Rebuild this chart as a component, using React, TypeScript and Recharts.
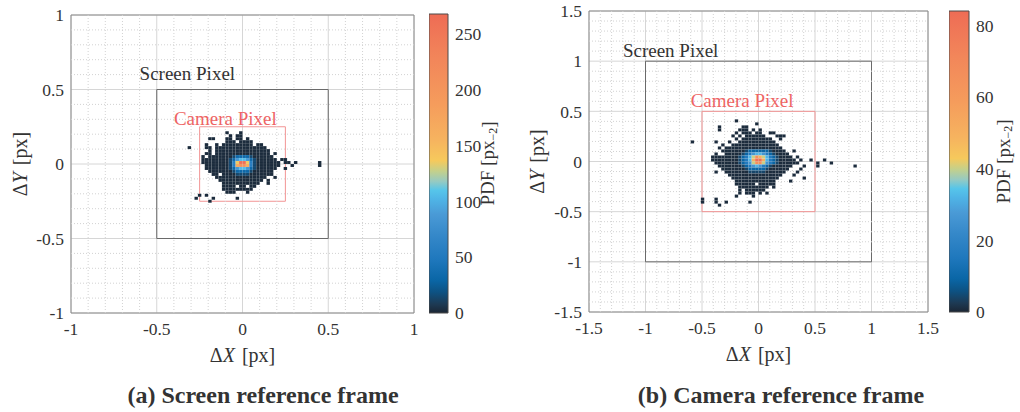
import React from 'react';
import {
  Bar,
  BarChart,
  CartesianGrid,
  Label,
  ReferenceArea,
  ReferenceDot,
  ReferenceLine,
  Scatter,
  ScatterChart,
  XAxis,
  YAxis,
} from 'recharts';

const FONT = "'Liberation Serif', 'Times New Roman', serif";
const TEXT = '#333333';

// colorbar colormap, from 0 (bottom) to max (top)
const colormapStops = [
  { at: 0.0, color: '#1b2634' },
  { at: 0.03, color: '#1d3a54' },
  { at: 0.07, color: '#0d5283' },
  { at: 0.11, color: '#0a66a6' },
  { at: 0.18, color: '#1f78bd' },
  { at: 0.26, color: '#3588c9' },
  { at: 0.33, color: '#4a9ad6' },
  { at: 0.38, color: '#4fb4e6' },
  { at: 0.41, color: '#56c5ea' },
  { at: 0.44, color: '#96cac2' },
  { at: 0.475, color: '#c5d08a' },
  { at: 0.51, color: '#f6c95c' },
  { at: 0.58, color: '#f6b35f' },
  { at: 0.7, color: '#f59c5c' },
  { at: 0.85, color: '#f2865a' },
  { at: 1.0, color: '#ee6c55' },
];

// (a) screen reference frame
const ticksA = [-1, -0.5, 0, 0.5, 1];
const colorTicksA = [0, 50, 100, 150, 200, 250];
const pdfMaxA = 268;
const binA = 0.02;
const firstColA = -16; // column of the first char, in bins
const topRowA = 10; // row of the first string, in bins
const levelsA: Record<string, number> = {
  '#': 2, '0': 14, '1': 32, '2': 55, b: 85, c: 105, d: 135, e: 165, f: 210, g: 265,
};
const densityRowsA = [
  '...........#...#',
  '............#.##',
  '......##...##.##.#',
  '...........###.####',
  '.....#..#.#########.##',
  '#....##.###############',
  '......#.################',
  '.....##.################.#',
  '....#.#######011110######',
  '....########01bccb10######.##',
  '....########02dggd20#######.##.#......#',
  '.....#######02effe20#######...#.......#',
  '.....#######01bccb10######..#',
  '......#######011110######',
  '.......##.####0000#######',
  '........###############..#',
  '.........#############.#',
  '..........###########..#',
  '..........####.##.##',
  '..........#########',
  '...........###...#',
  '...#.#',
  '..#....#......#',
  '......#',
];

// (b) camera reference frame
const ticksB = [-1.5, -1, -0.5, 0, 0.5, 1, 1.5];
const colorTicksB = [0, 20, 40, 60, 80];
const pdfMaxB = 84;
const binB = 0.03;
const firstColB = -20;
const topRowB = 13;
const levelsB: Record<string, number> = {
  '#': 0.7, '0': 4, '1': 9, '2': 16, b: 26, c: 32, d: 40, e: 50, f: 65, g: 82,
};
const densityRowsB = [
  '.............#',
  '...................#',
  '........#......##',
  '........#.....###.#.#',
  '.............#.###.##..##',
  '............#.#.######...###',
  '.............#.#########..#',
  '#......#...#..###########',
  '.........#..##############',
  '........#.#################',
  '.........#######01111110####..#',
  '.......#..#####012bccb210####',
  '......########012cdfedc210####.#',
  '......########012ceggec210#####.#..#...#',
  '.......#######012bdffdb210######.....#...#',
  '........#######012bcb210######...#...#..........#',
  '.........#######0111110######...#',
  '.......#..#######00000######...#',
  '...........################...#',
  '............##############.......#',
  '.............############....#',
  '.............######.#####',
  '..............#########.#',
  '..............#.######',
  '..............#.###.#.#',
  '.............#....#',
  '...#...#',
  '...#...#..#......#',
  '........#',
];

function hexToRgb(h: string) {
  const n = parseInt(h.slice(1), 16);
  return [(n >> 16) & 255, (n >> 8) & 255, n & 255];
}

function colorAt(t: number) {
  const tt = Math.max(0, Math.min(1, t));
  for (let k = 1; k < colormapStops.length; k++) {
    const a = colormapStops[k - 1];
    const b = colormapStops[k];
    if (tt <= b.at) {
      const f = (tt - a.at) / (b.at - a.at);
      const ca = hexToRgb(a.color);
      const cb = hexToRgb(b.color);
      const c = ca.map((v, i) => Math.round(v + (cb[i] - v) * f));
      return `rgb(${c[0]},${c[1]},${c[2]})`;
    }
  }
  return colormapStops[colormapStops.length - 1].color;
}

function buildCells(rows: string[], levels: Record<string, number>, bin: number, firstCol: number, topRow: number) {
  const cells: { x: number; y: number; v: number }[] = [];
  rows.forEach((row, j) => {
    row.split('').forEach((ch, i) => {
      if (ch === '.') return;
      cells.push({ x: (firstCol + i + 0.5) * bin, y: (topRow - j + 0.5) * bin, v: levels[ch] });
    });
  });
  return cells;
}

// minor grid every 0.1 px, skipping the major 0.5 lines
function minorTicks(lo: number, hi: number) {
  const out: number[] = [];
  for (let i = Math.round(lo * 10) + 1; i < Math.round(hi * 10); i++) {
    if (i % 5 !== 0) out.push(i / 10);
  }
  return out;
}

const mathLabel = (letter: string, rotate: boolean, shift: number) => (props: any) => {
  const vb = props.viewBox || {};
  const cx = rotate ? vb.x + shift : vb.x + vb.width / 2;
  const cy = rotate ? vb.y + vb.height / 2 : vb.y + shift;
  return (
    <text
      x={cx}
      y={cy}
      textAnchor="middle"
      dominantBaseline="central"
      fontFamily={FONT}
      fontSize={20}
      fill={TEXT}
      transform={rotate ? `rotate(-90, ${cx}, ${cy})` : undefined}
    >
      Δ<tspan fontStyle="italic">{letter}</tspan>
      <tspan dx={7}>[px]</tspan>
    </text>
  );
};

const pdfLabel = (shift: number) => (props: any) => {
  const vb = props.viewBox || {};
  const cx = vb.x + shift;
  const cy = vb.y + vb.height / 2;
  return (
    <text
      x={cx}
      y={cy}
      textAnchor="middle"
      dominantBaseline="central"
      fontFamily={FONT}
      fontSize={19}
      fill={TEXT}
      transform={`rotate(-90, ${cx}, ${cy})`}
    >
      PDF [px
      <tspan dy={5} fontSize={12}>−2</tspan>
      <tspan dy={-5}>]</tspan>
    </text>
  );
};

interface PanelProps {
  left: number;
  margin: { top: number; right: number; bottom: number; left: number };
  domain: [number, number];
  ticks: number[];
  cells: { x: number; y: number; v: number }[];
  bin: number;
  pdfMax: number;
  screen: number;
  camera: number;
  screenText: [number, number];
  cameraText: [number, number];
  yLabelShift: number;
}

const WIDTH = 510;
const HEIGHT = 370;
const Y_AXIS_W = 60;
const X_AXIS_H = 50;
const tickStyle = { fontSize: 17.5, fill: TEXT, fontFamily: FONT };

function HeatPanel(p: PanelProps) {
  const plotW = WIDTH - p.margin.left - p.margin.right - Y_AXIS_W;
  const plotH = HEIGHT - p.margin.top - p.margin.bottom - X_AXIS_H;
  const span = p.domain[1] - p.domain[0];
  const cw = (plotW * p.bin) / span;
  const ch = (plotH * p.bin) / span;
  const minor = minorTicks(p.domain[0], p.domain[1]);

  const cellShape = (props: any) => (
    <rect
      x={props.cx - cw / 2}
      y={props.cy - ch / 2}
      width={cw}
      height={ch}
      fill={colorAt(props.payload.v / p.pdfMax)}
      stroke="rgba(255,255,255,0.08)"
      strokeWidth={0.5}
    />
  );

  return (
    <div style={{ position: 'absolute', left: p.left, top: 0 }}>
      <ScatterChart width={WIDTH} height={HEIGHT} margin={p.margin}>
        <CartesianGrid stroke="#d6d6d6" />
        {minor.map((v) => (
          <ReferenceLine key={`mx${v}`} x={v} stroke="#d2d2d2" strokeDasharray="1 2" strokeWidth={1} />
        ))}
        {minor.map((v) => (
          <ReferenceLine key={`my${v}`} y={v} stroke="#d2d2d2" strokeDasharray="1 2" strokeWidth={1} />
        ))}
        <XAxis
          type="number"
          dataKey="x"
          domain={p.domain}
          ticks={p.ticks}
          height={X_AXIS_H}
          tick={tickStyle}
          tickSize={0}
          tickMargin={10}
          axisLine={false}
        >
          <Label content={mathLabel('X', false, 42)} />
        </XAxis>
        <YAxis
          type="number"
          dataKey="y"
          domain={p.domain}
          ticks={p.ticks}
          width={Y_AXIS_W}
          tick={tickStyle}
          tickSize={0}
          tickMargin={7}
          axisLine={false}
        >
          <Label content={mathLabel('Y', true, p.yLabelShift)} />
        </YAxis>
        <Scatter data={p.cells} isAnimationActive={false} shape={cellShape} />
        <ReferenceArea
          x1={-p.screen}
          x2={p.screen}
          y1={-p.screen}
          y2={p.screen}
          fill="none"
          stroke="#6a6a6a"
          strokeWidth={1}
        />
        <ReferenceArea
          x1={-p.camera}
          x2={p.camera}
          y1={-p.camera}
          y2={p.camera}
          fill="none"
          stroke="#f29494"
          strokeWidth={1}
        />
        <ReferenceArea
          x1={p.domain[0]}
          x2={p.domain[1]}
          y1={p.domain[0]}
          y2={p.domain[1]}
          fill="none"
          stroke="#8a8a8a"
          strokeWidth={1}
        />
        <ReferenceDot
          x={p.screenText[0]}
          y={p.screenText[1]}
          r={0}
          fill="none"
          stroke="none"
          label={{ value: 'Screen Pixel', position: 'right', offset: 0, fill: TEXT, fontSize: 19, fontFamily: FONT }}
        />
        <ReferenceDot
          x={p.cameraText[0]}
          y={p.cameraText[1]}
          r={0}
          fill="none"
          stroke="none"
          label={{ value: 'Camera Pixel', position: 'right', offset: 0, fill: '#ee6464', fontSize: 19, fontFamily: FONT }}
        />
      </ScatterChart>
    </div>
  );
}

interface ColorbarProps {
  id: string;
  left: number;
  top: number;
  bottom: number;
  barW: number;
  axisW: number;
  max: number;
  ticks: number[];
  labelShift: number;
}

function Colorbar(c: ColorbarProps) {
  const h = 330;
  return (
    <div style={{ position: 'absolute', left: c.left, top: 0 }}>
      <BarChart
        width={c.barW + c.axisW}
        height={h}
        data={[{ name: 'pdf', v: c.max }]}
        margin={{ top: c.top, right: 0, bottom: h - c.bottom, left: 0 }}
        barCategoryGap={0}
      >
        <defs>
          <linearGradient id={c.id} x1="0" y1="1" x2="0" y2="0">
            {colormapStops.map((s) => (
              <stop key={s.at} offset={s.at} stopColor={s.color} />
            ))}
          </linearGradient>
        </defs>
        <XAxis dataKey="name" hide />
        <YAxis
          orientation="right"
          domain={[0, c.max]}
          ticks={c.ticks}
          width={c.axisW}
          tick={tickStyle}
          tickSize={0}
          tickMargin={7}
          axisLine={false}
        >
          <Label content={pdfLabel(c.labelShift)} />
        </YAxis>
        <Bar dataKey="v" fill={`url(#${c.id})`} stroke="#4a4a4a" strokeWidth={1} isAnimationActive={false} />
      </BarChart>
    </div>
  );
}

const captionStyle: React.CSSProperties = {
  position: 'absolute',
  top: 381,
  width: 400,
  textAlign: 'center',
  fontFamily: FONT,
  fontWeight: 'bold',
  fontSize: 24,
  lineHeight: '28px',
  color: '#333',
  whiteSpace: 'nowrap',
};

export default function App() {
  const cellsA = buildCells(densityRowsA, levelsA, binA, firstColA, topRowA);
  const cellsB = buildCells(densityRowsB, levelsB, binB, firstColB, topRowB);

  return (
    <div style={{ position: 'absolute', left: 0, top: 0, width: 1020, height: 412, background: '#fff', overflow: 'hidden' }}>
      <HeatPanel
        left={0}
        margin={{ top: 15, right: 96, bottom: 7, left: 11 }}
        domain={[-1, 1]}
        ticks={ticksA}
        cells={cellsA}
        bin={binA}
        pdfMax={pdfMaxA}
        screen={0.5}
        camera={0.25}
        screenText={[-0.6, 0.607]}
        cameraText={[-0.4, 0.307]}
        yLabelShift={9}
      />
      <Colorbar id="cbA" left={429} top={14} bottom={313} barW={19} axisW={81} max={pdfMaxA} ticks={colorTicksA} labelShift={39.5} />
      <HeatPanel
        left={510}
        margin={{ top: 11, right: 92, bottom: 8, left: 19 }}
        domain={[-1.5, 1.5]}
        ticks={ticksB}
        cells={cellsB}
        bin={binB}
        pdfMax={pdfMaxB}
        screen={1}
        camera={0.5}
        screenText={[-1.2, 1.107]}
        cameraText={[-0.6, 0.61]}
        yLabelShift={8}
      />
      <Colorbar id="cbB" left={949} top={11} bottom={312} barW={20} axisW={51} max={pdfMaxB} ticks={colorTicksB} labelShift={34} />
      <div style={{ ...captionStyle, left: 263 - 200 }}>(a) Screen reference frame</div>
      <div style={{ ...captionStyle, left: 781 - 200 }}>(b) Camera reference frame</div>
    </div>
  );
}
